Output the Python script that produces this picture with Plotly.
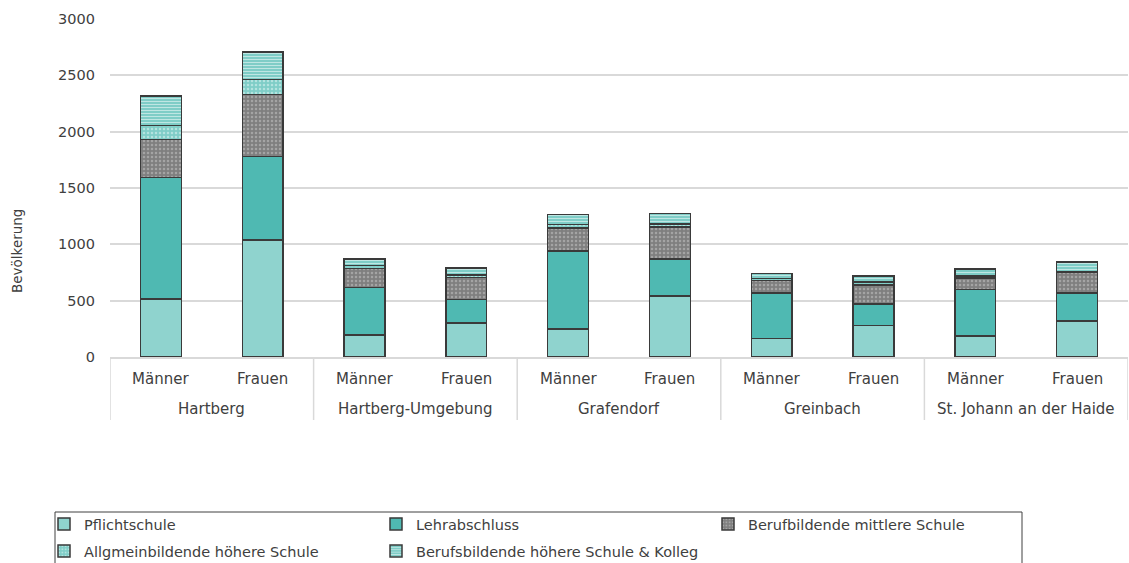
import plotly.graph_objects as go

# Gemeinden (outer level) and sex (inner level) of the grouped x axis
gemeinden = ["Hartberg", "Hartberg-Umgebung", "Grafendorf", "Greinbach",
             "St. Johann an der Haide"]
geschlecht = ["Männer", "Frauen"]

# Population by highest completed education, one value per Gemeinde × sex
pflichtschule = [515, 1040, 195, 300, 250, 540, 165, 280, 185, 320]
lehrabschluss = [1080, 740, 420, 210, 690, 330, 405, 190, 415, 250]
bms = [335, 550, 170, 195, 205, 285, 110, 170, 100, 180]
ahs = [125, 135, 25, 25, 30, 25, 15, 25, 20, 10]
bhs_kolleg = [260, 240, 60, 60, 90, 95, 45, 55, 60, 85]

# (name, values, marker, legend row)
series = [
    ("Pflichtschule", pflichtschule, dict(color="#8fd3ce"), "legend"),
    ("Lehrabschluss", lehrabschluss, dict(color="#4fb9b2"), "legend"),
    ("Berufbildende mittlere Schule", bms,
     dict(color="#7f7f7f", pattern=dict(shape=".", fgcolor="#c8c8c8",
                                         bgcolor="#7f7f7f", size=4, solidity=0.3)),
     "legend"),
    ("Allgmeinbildende höhere Schule", ahs,
     dict(color="#8fd3ce", pattern=dict(shape=".", fgcolor="#e8f7f5",
                                         bgcolor="#7fcdc7", size=4, solidity=0.3)),
     "legend2"),
    ("Berufsbildende höhere Schule & Kolleg", bhs_kolleg,
     dict(color="#8fd3ce", pattern=dict(shape="-", fgcolor="#ffffff",
                                         bgcolor="#7fcdc7", size=3, solidity=0.35)),
     "legend2"),
]

TEXT = "#404040"
GRID = "#d9d9d9"
FONT = "DejaVu Sans"
FS = 14.5

# plot area in pixels
W, H = 1129, 563
ML, MR, MT, MB = 110, 1, 19, 206
PW, PH = W - ML - MR, H - MT - MB


def px_x(px):
    return (px - ML) / PW


def px_y(py):
    return (H - MB - py) / PH


n_sex = len(geschlecht)
positions = list(range(len(gemeinden) * n_sex))

fig = go.Figure()
for name, vals, marker, leg in series:
    marker = dict(marker, line=dict(color="#3a3a3a", width=1.5))
    fig.add_trace(go.Bar(x=positions, y=vals, name=name,
                         marker=marker, legend=leg))

# two-level category labels below the axis
for p in positions:
    fig.add_annotation(text=geschlecht[p % n_sex], x=p, xref="x",
                       y=px_y(379), yref="paper", showarrow=False,
                       xanchor="center", yanchor="middle",
                       font=dict(family=FONT, size=FS + 0.5, color=TEXT))
for g, name in enumerate(gemeinden):
    fig.add_annotation(text=name, x=g * n_sex + (n_sex - 1) / 2, xref="x",
                       y=px_y(409), yref="paper", showarrow=False,
                       xanchor="center", yanchor="middle",
                       font=dict(family=FONT, size=FS + 0.5, color=TEXT))
# group dividers
for g in range(len(gemeinden) + 1):
    fig.add_shape(type="line", xref="x", yref="paper",
                  x0=g * n_sex - 0.5, x1=g * n_sex - 0.5,
                  y0=0, y1=px_y(420), line=dict(color=GRID, width=1.5))

legend_common = dict(orientation="h", xanchor="left", yanchor="top",
                     x=px_x(44), entrywidth=287, entrywidthmode="pixels",
                     bgcolor="rgba(0,0,0,0)", borderwidth=0,
                     font=dict(family=FONT, size=FS, color=TEXT),
                     traceorder="normal")

fig.update_layout(
    width=W, height=H,
    barmode="stack", bargap=0.6,
    plot_bgcolor="white", paper_bgcolor="white",
    font=dict(family=FONT, size=FS, color=TEXT),
    margin=dict(l=ML, r=MR, t=MT, b=MB, autoexpand=False),
    showlegend=True,
    legend=dict(legend_common, y=px_y(508)),
    legend2=dict(legend_common, y=px_y(535)),
)

# legend frame (its lower edge runs below the page)
fig.add_shape(type="rect", xref="paper", yref="paper",
              x0=px_x(55), x1=px_x(1022), y0=px_y(512), y1=px_y(600),
              line=dict(color="#404040", width=1), fillcolor="rgba(0,0,0,0)",
              layer="below")

fig.update_xaxes(
    range=[-0.5, len(positions) - 0.5],
    showline=True, linecolor=GRID, linewidth=1.5,
    showgrid=False, zeroline=False, ticks="", showticklabels=False,
)
fig.update_yaxes(
    range=[0, 3000], dtick=500,
    showgrid=True, gridcolor=GRID, gridwidth=1.5,
    zeroline=False, showline=False, ticks="",
    ticklabelstandoff=14,
    tickfont=dict(family=FONT, size=FS, color=TEXT),
)

fig.add_annotation(text="Bevölkerung", xref="paper", yref="paper",
                   x=px_x(17), y=px_y(251), xanchor="center", yanchor="middle",
                   textangle=-90, showarrow=False,
                   font=dict(family=FONT, size=FS - 1, color=TEXT))

fig.write_html("out.html")
